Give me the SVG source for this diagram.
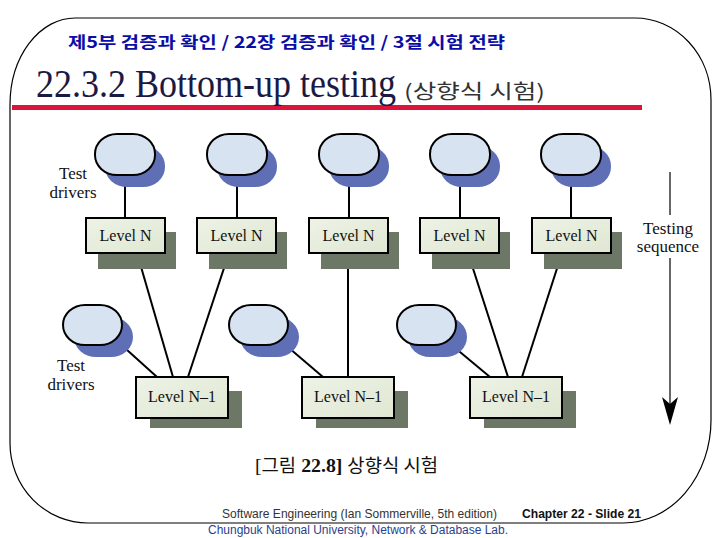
<svg xmlns="http://www.w3.org/2000/svg" width="717" height="538" viewBox="0 0 717 538">
<defs>
<linearGradient id="boxg" x1="0" y1="0" x2="1" y2="1">
<stop offset="0" stop-color="#eef3e6"/>
<stop offset="1" stop-color="#dfe7d2"/>
</linearGradient>
</defs>
<style>
.frame{fill:none;stroke:#000;stroke-width:1.2}
.drv{fill:#d7e3f1;stroke:#000;stroke-width:2}
.drvsh{fill:#5f6fb6}
.box{fill:url(#boxg);stroke:#000;stroke-width:2}
.boxsh{fill:#6d7766}
.lbl{font-family:"Liberation Serif","Times New Roman",serif;font-size:16px;fill:#111;text-anchor:middle}
.side{font-family:"Liberation Serif","Times New Roman",serif;font-size:17px;fill:#111;text-anchor:middle}
.con{stroke:#000;stroke-width:2;fill:none}
</style>
<rect width="717" height="538" fill="#fff"/>
<!-- slide frame -->
<path class="frame" d="M75,18 L635,18 A76,82 0 0 1 711,100 L711,420 A88,103 0 0 1 623,523 L88,523 A78,80 0 0 1 10,443 L10,105 A65,87 0 0 1 75,18 Z"/>
<rect x="12" y="105" width="630" height="5" fill="#dc143c"/>
<text x="68" y="48" textLength="437" lengthAdjust="spacingAndGlyphs" font-family="'Noto Sans CJK KR',sans-serif" font-weight="bold" font-size="16" fill="#0c0ca6">제5부 검증과 확인 / 22장 검증과 확인 / 3절 시험 전략</text>
<text transform="translate(36,97) scale(1,1.12)" x="0" y="0" textLength="360" lengthAdjust="spacingAndGlyphs" font-family="'Liberation Serif','Times New Roman',serif" font-size="35" fill="#1a1a44">22.3.2 Bottom-up testing</text>
<text x="404" y="99" textLength="141" lengthAdjust="spacingAndGlyphs" font-family="'Noto Sans CJK KR',sans-serif" font-size="20" fill="#333">(상향식 시험)</text>

<!-- connectors -->
<g id="connectors">
<line class="con" x1="125" y1="175" x2="125" y2="218"/>
<line class="con" x1="237" y1="175" x2="237" y2="218"/>
<line class="con" x1="349" y1="175" x2="349" y2="218"/>
<line class="con" x1="460" y1="175" x2="460" y2="218"/>
<line class="con" x1="571" y1="175" x2="571" y2="218"/>
<line class="con" x1="137" y1="253" x2="173" y2="377"/>
<line class="con" x1="229" y1="253" x2="188" y2="377"/>
<line class="con" x1="116" y1="340" x2="157" y2="377"/>
<line class="con" x1="348" y1="253" x2="348" y2="377"/>
<line class="con" x1="282" y1="342" x2="323" y2="377"/>
<line class="con" x1="468" y1="253" x2="508" y2="377"/>
<line class="con" x1="562" y1="253" x2="522" y2="377"/>
<line class="con" x1="448" y1="342" x2="490" y2="377"/>
</g>

<!-- top test drivers -->
<g id="drv1"><rect class="drvsh" x="105" y="146" width="60" height="41" rx="22" ry="20"/><rect class="drv" x="95" y="134" width="60" height="41" rx="22" ry="20"/></g>
<g id="drv2"><rect class="drvsh" x="217" y="146" width="60" height="41" rx="22" ry="20"/><rect class="drv" x="207" y="134" width="60" height="41" rx="22" ry="20"/></g>
<g id="drv3"><rect class="drvsh" x="329" y="146" width="60" height="41" rx="22" ry="20"/><rect class="drv" x="319" y="134" width="60" height="41" rx="22" ry="20"/></g>
<g id="drv4"><rect class="drvsh" x="440" y="146" width="60" height="41" rx="22" ry="20"/><rect class="drv" x="430" y="134" width="60" height="41" rx="22" ry="20"/></g>
<g id="drv5"><rect class="drvsh" x="551" y="146" width="60" height="41" rx="22" ry="20"/><rect class="drv" x="541" y="134" width="60" height="41" rx="22" ry="20"/></g>

<!-- Level N boxes -->
<g id="ln1"><rect class="boxsh" x="98" y="232" width="78" height="37"/><rect class="box" x="86" y="218" width="79" height="35"/><text class="lbl" x="125.5" y="241">Level N</text></g>
<g id="ln2"><rect class="boxsh" x="209" y="232" width="78" height="37"/><rect class="box" x="197" y="218" width="79" height="35"/><text class="lbl" x="236.5" y="241">Level N</text></g>
<g id="ln3"><rect class="boxsh" x="321" y="232" width="78" height="37"/><rect class="box" x="309" y="218" width="79" height="35"/><text class="lbl" x="348.5" y="241">Level N</text></g>
<g id="ln4"><rect class="boxsh" x="432" y="232" width="78" height="37"/><rect class="box" x="420" y="218" width="79" height="35"/><text class="lbl" x="459.5" y="241">Level N</text></g>
<g id="ln5"><rect class="boxsh" x="544" y="232" width="78" height="37"/><rect class="box" x="532" y="218" width="79" height="35"/><text class="lbl" x="571.5" y="241">Level N</text></g>

<!-- lower test drivers -->
<g id="drv6"><rect class="drvsh" x="74" y="317" width="59" height="40" rx="22" ry="20"/><rect class="drv" x="63" y="305" width="59" height="40" rx="22" ry="20"/></g>
<g id="drv7"><rect class="drvsh" x="240" y="317" width="59" height="40" rx="22" ry="20"/><rect class="drv" x="229" y="305" width="59" height="40" rx="22" ry="20"/></g>
<g id="drv8"><rect class="drvsh" x="408" y="317" width="59" height="40" rx="22" ry="20"/><rect class="drv" x="397" y="305" width="59" height="40" rx="22" ry="20"/></g>

<!-- Level N-1 boxes -->
<g id="ln1m"><rect class="boxsh" x="150" y="391" width="92" height="37"/><rect class="box" x="136" y="377" width="92" height="41"/><text class="lbl" x="182" y="402">Level N–1</text></g>
<g id="ln2m"><rect class="boxsh" x="316" y="391" width="92" height="37"/><rect class="box" x="302" y="377" width="92" height="41"/><text class="lbl" x="348" y="402">Level N–1</text></g>
<g id="ln3m"><rect class="boxsh" x="484" y="391" width="92" height="37"/><rect class="box" x="470" y="377" width="92" height="41"/><text class="lbl" x="516" y="402">Level N–1</text></g>

<!-- labels -->
<g id="td1"><text class="side" x="73" y="179">Test</text><text class="side" x="73" y="198">drivers</text></g>
<g id="td2"><text class="side" x="71" y="371">Test</text><text class="side" x="71" y="390">drivers</text></g>

<!-- testing sequence -->
<g id="seq">
<line x1="670" y1="172" x2="670" y2="215" stroke="#000" stroke-width="1.2"/>
<text class="side" x="668" y="234">Testing</text>
<text class="side" x="668" y="252">sequence</text>
<line x1="670" y1="258" x2="670" y2="410" stroke="#000" stroke-width="1.2"/>
<polygon points="662,397 670,404 678,397 670,425" fill="#000"/>
</g>

<!-- caption -->
<text x="255" y="472" textLength="183" lengthAdjust="spacingAndGlyphs" font-family="'Liberation Serif','Noto Sans CJK KR',serif" font-size="19" fill="#111">[<tspan font-family="'Noto Sans CJK KR',sans-serif" font-size="18">그림</tspan> <tspan font-weight="bold">22.8]</tspan> <tspan font-family="'Noto Sans CJK KR',sans-serif" font-size="18">상향식 시험</tspan></text>

<!-- footer -->
<text x="222" y="518" font-family="'Liberation Sans',Arial,sans-serif" font-size="12" fill="#333" textLength="275" lengthAdjust="spacingAndGlyphs">Software Engineering (Ian Sommerville, 5th edition)</text>
<text x="522" y="518" font-family="'Liberation Sans',Arial,sans-serif" font-size="12" font-weight="bold" fill="#111" textLength="119" lengthAdjust="spacingAndGlyphs">Chapter 22 - Slide 21</text>
<text x="208" y="534" font-family="'Liberation Sans',Arial,sans-serif" font-size="12" fill="#2a3f8c" textLength="300" lengthAdjust="spacingAndGlyphs">Chungbuk National University, Network &amp; Database Lab.</text>
</svg>
